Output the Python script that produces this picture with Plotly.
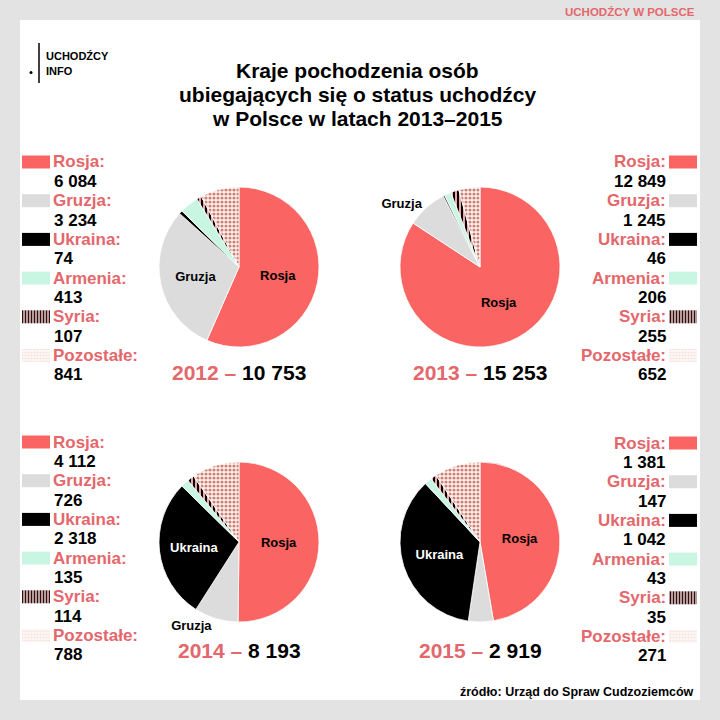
import plotly.graph_objects as go

# ---------------- data ----------------
countries = ["Rosja", "Gruzja", "Ukraina", "Armenia", "Syria", "Pozostałe"]
years = ["2012", "2013", "2014", "2015"]
values_2012 = [6084, 3234, 74, 413, 107, 841]
values_2013 = [12849, 1245, 46, 206, 255, 652]
values_2014 = [4112, 726, 2318, 135, 114, 788]
values_2015 = [1381, 147, 1042, 43, 35, 271]
series = [values_2012, values_2013, values_2014, values_2015]

# which slice names are printed on each pie, and where
pie_labels = [
    ["Rosja", "Gruzja", "", "", "", ""],
    ["Rosja", "Gruzja", "", "", "", ""],
    ["Rosja", "Gruzja", "Ukraina", "", "", ""],
    ["Rosja", "", "Ukraina", "", "", ""],
]
pie_label_pos = [
    ["inside", "inside", "none", "none", "none", "none"],
    ["inside", "outside", "none", "none", "none", "none"],
    ["inside", "outside", "inside", "none", "none", "none"],
    ["inside", "none", "inside", "none", "none", "none"],
]

title_lines = ["Kraje pochodzenia osób", "ubiegających się o status uchodźcy", "w Polsce w latach 2013–2015"]
kicker = "UCHODŹCY W POLSCE"
source = "źródło: Urząd do Spraw Cudzoziemców"
logo_lines = ["UCHODŹCY", "INFO"]

# ---------------- style ----------------
W = H = 720
FONT = "Liberation Sans"
RED = "#fa6462"
LABEL_RED = "#e4676b"
GRAY_BG = "#e3e3e3"
fills = [RED, "#dcdcdc", "#000000", "#c9f5e3", "#3a0a0a", "#f7e6e2"]
pat_shapes = ["", "", "", "", "|", "."]
pat_fg = ["#000", "#000", "#000", "#000", "#000000", "#cf8274"]
pat_bg = [RED, "#dcdcdc", "#000000", "#c9f5e3", "#e9a9a9", "#fdf6f4"]
sw_fg = ["#000", "#000", "#000", "#000", "#000000", "#c66f5f"]
sw_bg = [RED, "#dcdcdc", "#000000", "#c9f5e3", "#c45a5a", "#fbeeea"]
text_colors = ["#000", "#000", "#fff", "#000", "#000", "#000"]

pie_centers = [(239, 267), (480, 267), (239, 542), (480, 542)]
R = 80
total_y = [372, 372, 650, 650]
title_y = [71, 95, 119]
logo_y = [56, 71]

# legend blocks: (side, first item y)
legend_blocks = [("left", 162), ("right", 162), ("left", 442), ("right", 443)]
LEG_STEP = 38.7
SW_W, SW_H = 28, 13


def fmt(v):
    return f"{v:,}".replace(",", " ")


def px(x):
    return x / W


def py(y):
    return 1 - y / H


def txt(x, y, text, size, color="#000", anchor="center"):
    return dict(x=px(x), y=py(y), xref="paper", yref="paper", text=text,
                showarrow=False, xanchor=anchor, yanchor="middle", align=anchor,
                font=dict(family=FONT, size=size, color=color, weight="bold"))


fig = go.Figure()

# ---------------- pies ----------------
for i, vals in enumerate(series):
    cx, cy = pie_centers[i]
    fig.add_trace(go.Pie(
        values=vals,
        labels=countries,
        text=pie_labels[i],
        textinfo="text",
        textposition=pie_label_pos[i],
        insidetextorientation="horizontal",
        textfont=dict(family=FONT, size=13, color=text_colors, weight="bold"),
        sort=False,
        direction="clockwise",
        rotation=0,
        marker=dict(
            colors=fills,
            line=dict(color="#ffffff", width=0.8),
            pattern=dict(shape=pat_shapes, fgcolor=pat_fg, bgcolor=pat_bg,
                         size=4, solidity=0.5, fillmode="replace"),
        ),
        domain=dict(x=[px(cx - R), px(cx + R)], y=[py(cy + R), py(cy - R)]),
        showlegend=False,
        hoverinfo="label+value",
    ))

# ---------------- legends: swatches as bars on a pixel axis + text ----------------
annotations = []
for i, (side, y0) in enumerate(legend_blocks):
    ys = [y0 + LEG_STEP * k for k in range(len(countries))]
    base = 22 if side == "left" else 669
    fig.add_trace(go.Bar(
        orientation="h",
        y=ys,
        x=[SW_W] * len(countries),
        base=[base] * len(countries),
        width=[SW_H] * len(countries),
        marker=dict(
            color=fills,
            line=dict(width=0),
            pattern=dict(shape=pat_shapes, fgcolor=sw_fg, bgcolor=sw_bg,
                         size=3, solidity=0.6, fillmode="replace"),
        ),
        showlegend=False,
        hoverinfo="skip",
        xaxis="x", yaxis="y",
    ))
    if side == "left":
        xa, anchor = 51, "left"
    else:
        xa, anchor = 668, "right"
    for k, name in enumerate(countries):
        annotations.append(txt(xa, ys[k], name + ":", 17, LABEL_RED, anchor))
        annotations.append(txt(xa + (1 if side == "left" else 0), ys[k] + LEG_STEP / 2,
                               fmt(series[i][k]), 17, "#000", anchor))

# ---------------- totals ----------------
for i, vals in enumerate(series):
    cx, _ = pie_centers[i]
    annotations.append(txt(
        cx, total_y[i],
        f"<span style='color:{LABEL_RED}'>{years[i]} – </span>{fmt(sum(vals))}", 21))

# ---------------- title & other texts ----------------
for line, ty in zip(title_lines, title_y):
    annotations.append(txt(357, ty, line, 21))
annotations.append(txt(697, 12, kicker, 11.5, LABEL_RED, "right"))
annotations.append(txt(696, 692, source, 12.5, "#000", "right"))
for line, ly in zip(logo_lines, logo_y):
    annotations.append(txt(44, ly, line, 11, "#000", "left"))

shapes = [
    dict(type="rect", xref="paper", yref="paper", x0=px(20), x1=px(700), y0=py(700), y1=py(20),
         fillcolor="#ffffff", line=dict(width=0), layer="below"),
    dict(type="line", xref="paper", yref="paper", x0=px(39), x1=px(39), y0=py(83), y1=py(43),
         line=dict(color="#000", width=1.5)),
    dict(type="circle", xref="paper", yref="paper", x0=px(29.5), x1=px(32.5), y0=py(74), y1=py(71),
         fillcolor="#000", line=dict(width=0)),
]

fig.update_layout(
    width=W, height=H,
    margin=dict(l=0, r=0, t=0, b=0),
    paper_bgcolor=GRAY_BG,
    plot_bgcolor="rgba(0,0,0,0)",
    xaxis=dict(range=[0, W], domain=[0, 1], visible=False, fixedrange=True),
    yaxis=dict(range=[H, 0], domain=[0, 1], visible=False, fixedrange=True),
    annotations=annotations,
    shapes=shapes,
    barmode="overlay",
    font=dict(family=FONT),
)

fig.write_html("out.html", config={"displayModeBar": False},
               post_script="document.body.style.margin='0';document.body.style.overflow='hidden';")
